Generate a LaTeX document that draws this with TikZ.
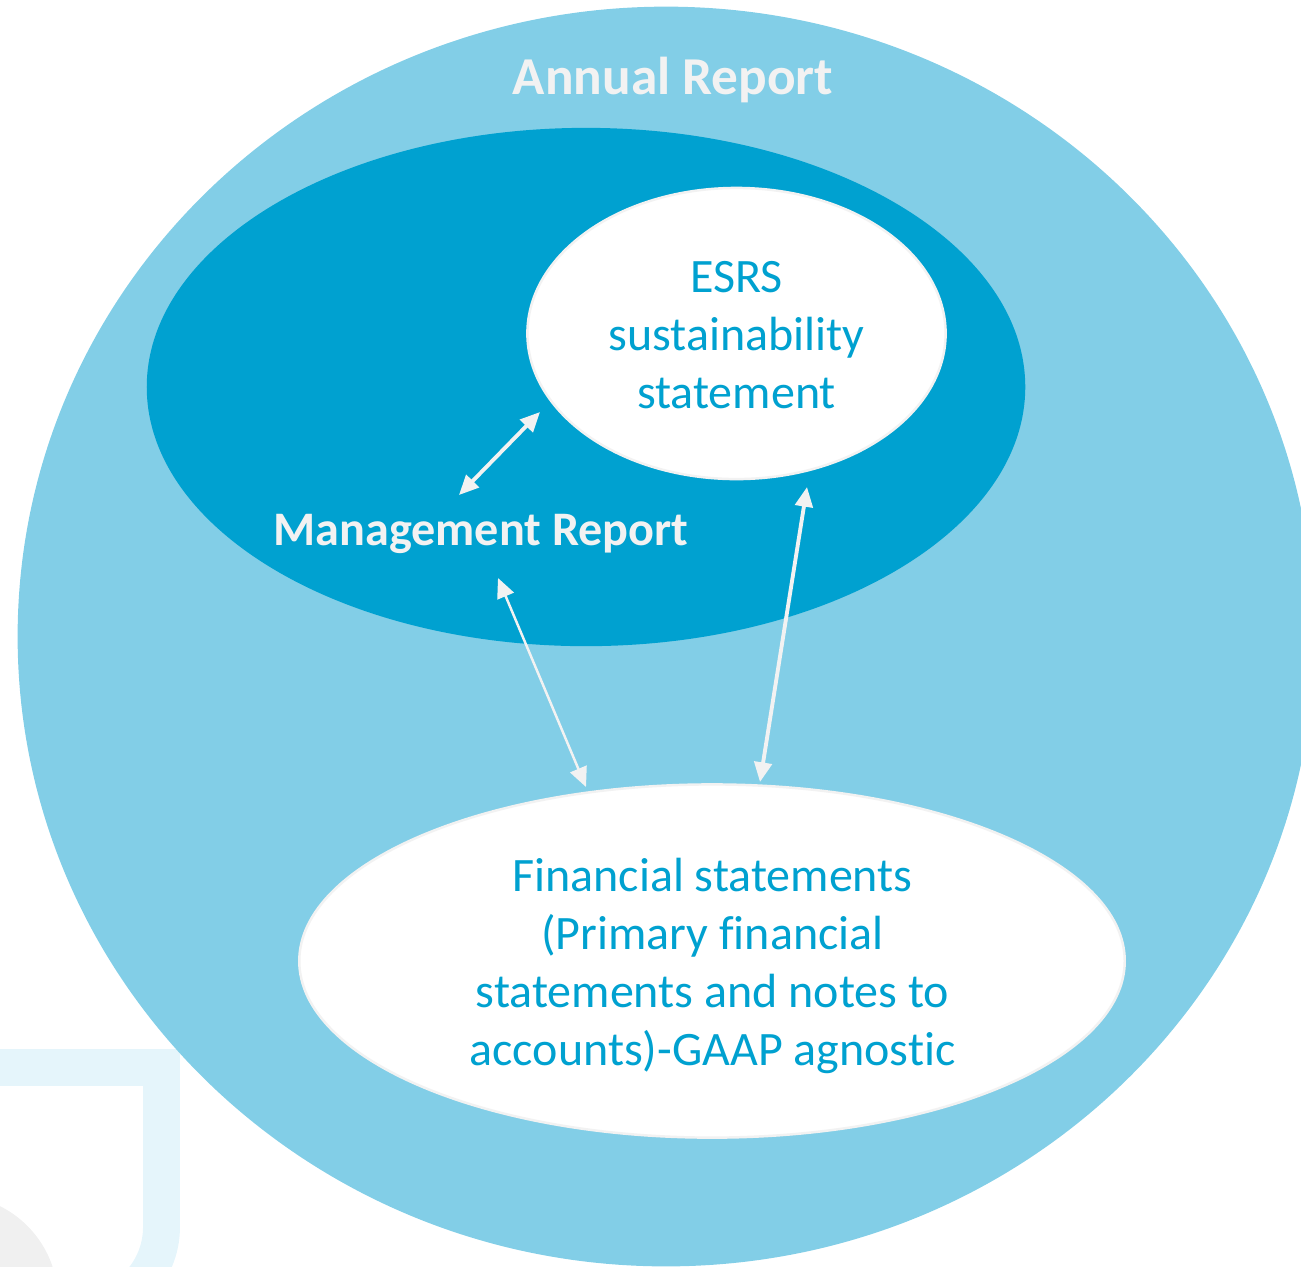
\documentclass[tikz,border=0pt]{standalone}
\usepackage{fontspec}
\setmainfont[Ligatures=NoCommon]{Carlito}
\usetikzlibrary{arrows.meta,%
	shapes.geometric}
\definecolor{outerblue}{HTML}{82CEE7}
\definecolor{innerblue}{HTML}{00A1D0}
\definecolor{paleblue}{HTML}{E5F5FB}
\definecolor{offwhite}{HTML}{F2F2F2}
\definecolor{palegrey}{HTML}{F0F0F0}

\begin{document}
\begin{tikzpicture}[x=0.01cm,y=-0.01cm,
	oval_node/.style={ellipse,inner sep=0pt},
	white_node/.style={oval_node,fill=white,draw=offwhite,line width=0.7pt},
	text_node/.style={inner sep=0pt,align=center,text=innerblue,font=\fontsize{13.65pt}{16.5pt}\selectfont},
	label_node/.style={inner sep=0pt,text=offwhite,font=\fontsize{13.7pt}{16.5pt}\selectfont\bfseries},
	link/.style={{Triangle[length=5.6pt,width=5pt]}-{Triangle[length=5.6pt,width=5pt]},draw=offwhite,line width=1.1pt}]

		\useasboundingbox (0,0) rectangle (1301,1266);
		\clip (0,0) rectangle (1301,1266);

		\fill[palegrey] (-47,1300) circle (105);
		\draw[paleblue,line width=10.5pt] (-50,1067.5) -- (161.5,1067.5) -- (161.5,1227) arc[start angle=0,end angle=90,radius=83.5] -- (0,1310.5);

		\node[oval_node,fill=outerblue,minimum width=12.96cm,minimum height=12.59cm] (annual) at (666,636.5) {};
		\node[oval_node,fill=innerblue,minimum width=8.78cm,minimum height=5.18cm] (management) at (586,387) {};
		\node[white_node,minimum width=4.18cm,minimum height=2.91cm] (esrs) at (736.5,333.5) {};
		\node[white_node,minimum width=8.25cm,minimum height=3.53cm] (financial) at (712,961) {};

		\node[text_node] (esrs_label) at (736.5,335) {ESRS\\sustainability\\statement};
		\node[text_node] (financial_label) at (712.5,966) {Financial statements\\(Primary financial\\statements and notes to\\accounts)-GAAP agnostic};
		\node[label_node,font=\fontsize{15.15pt}{18pt}\selectfont\bfseries] (annual_label) at (673,80) {Annual Report};
		\node[label_node] (management_label) at (481,534) {Management Report};

		\coordinate (a1) at (540,412);
		\coordinate (a2) at (459,495);
		\coordinate (b1) at (498,578);
		\coordinate (b2) at (586,787);
		\coordinate (c1) at (807,487);
		\coordinate (c2) at (760,782);

		\draw[link] (a1) -- (a2);
		\draw[link,line width=0.7pt] (b1) -- (b2);
		\draw[link] (c1) -- (c2);
\end{tikzpicture}
\end{document}
